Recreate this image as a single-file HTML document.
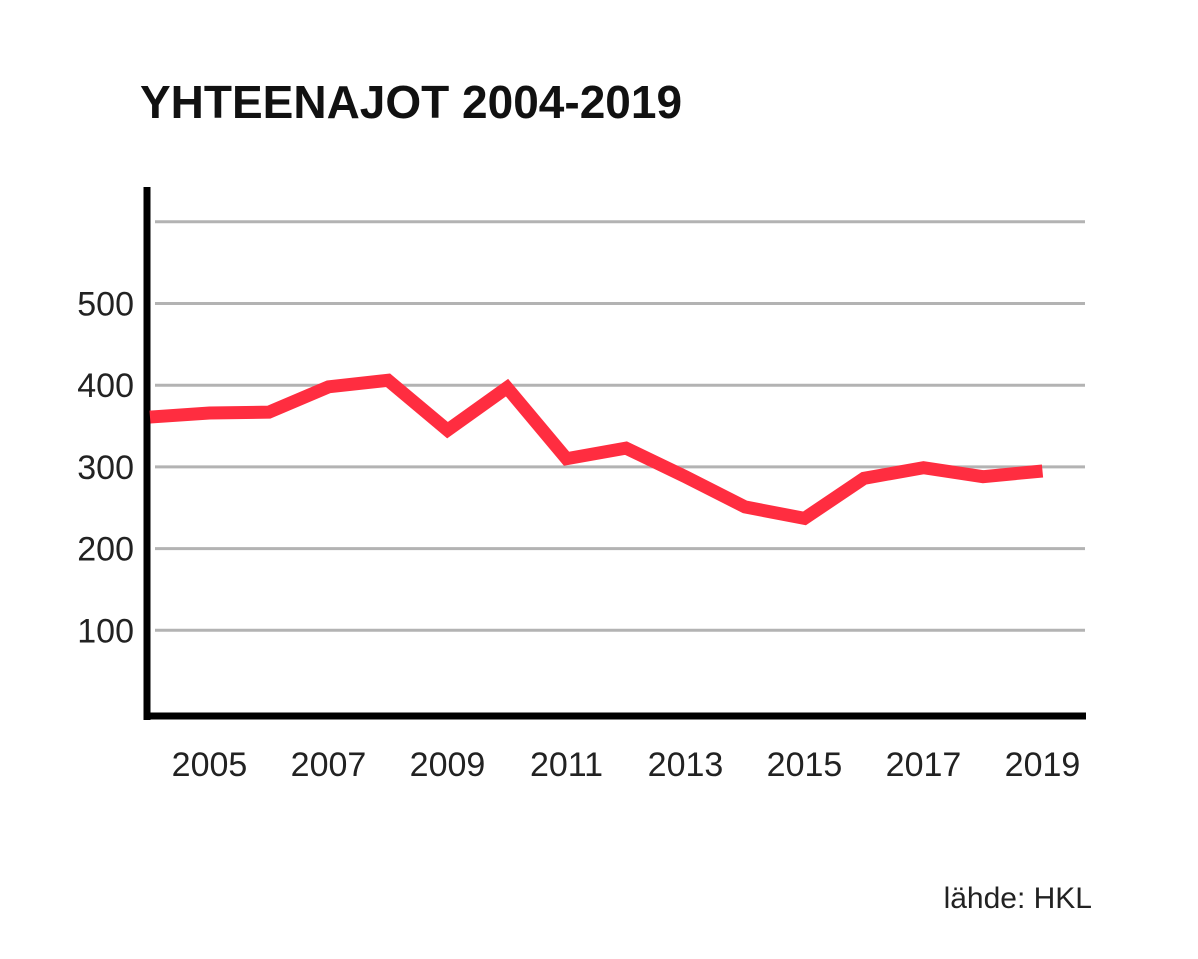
<!DOCTYPE html>
<html><head><meta charset="utf-8"><style>
html,body{margin:0;padding:0;background:#fff;}
svg{display:block;font-family:"Liberation Sans",sans-serif;}
</style></head><body>
<svg width="1198" height="959" viewBox="0 0 1198 959">
<text x="140" y="118" font-size="46" font-weight="bold" fill="#111">YHTEENAJOT 2004-2019</text>
<g id="grid"></g>
<g id="yticks"></g>
<g id="xticks"></g>
<line x1="147" y1="187" x2="147" y2="720" stroke="#000" stroke-width="7"/>
<line x1="144" y1="716" x2="1086" y2="716" stroke="#000" stroke-width="7"/>
<polyline id="line" fill="none" stroke="#ff2d40" stroke-width="13" stroke-linejoin="miter"/>
<text x="1092" y="908" font-size="30" text-anchor="end" fill="#222">lähde: HKL</text>
</svg>
<script>
const years = [2004,2005,2006,2007,2008,2009,2010,2011,2012,2013,2014,2015,2016,2017,2018,2019];
const values = [361,366,367,398,406,345,397,310,323,288,251,237,286,299,288,295];
const gridValues = [100,200,300,400,500,600];
const yTickLabels = ["100","200","300","400","500"];
const xTickLabels = ["2005","2007","2009","2011","2013","2015","2017","2019"];
const NS="http://www.w3.org/2000/svg";
function xs(y){return 150+(y-2004)*59.5;}
function ys(v){return 712-v*0.817;}
const grid=document.getElementById('grid');
gridValues.forEach(v=>{
  const l=document.createElementNS(NS,'line');
  l.setAttribute('x1',155);l.setAttribute('x2',1085);
  l.setAttribute('y1',ys(v));l.setAttribute('y2',ys(v));
  l.setAttribute('stroke','#b3b3b3');l.setAttribute('stroke-width','3');
  
  
  grid.appendChild(l);
});
const yt=document.getElementById('yticks');
yTickLabels.forEach(s=>{
  const t=document.createElementNS(NS,'text');
  t.setAttribute('x',134);t.setAttribute('y',ys(+s)+12);
  t.setAttribute('text-anchor','end');t.setAttribute('font-size','34');t.setAttribute('fill','#222');
  t.textContent=s;
  
  
  yt.appendChild(t);
});
const xt=document.getElementById('xticks');
xTickLabels.forEach(s=>{
  const t=document.createElementNS(NS,'text');
  t.setAttribute('x',xs(+s));t.setAttribute('y',776);
  t.setAttribute('text-anchor','middle');t.setAttribute('font-size','34');t.setAttribute('fill','#222');
  t.textContent=s;
  
  
  xt.appendChild(t);
});
document.getElementById('line').setAttribute('points',years.map((y,i)=>xs(y)+','+ys(values[i])).join(' '));
</script>
</body></html>
